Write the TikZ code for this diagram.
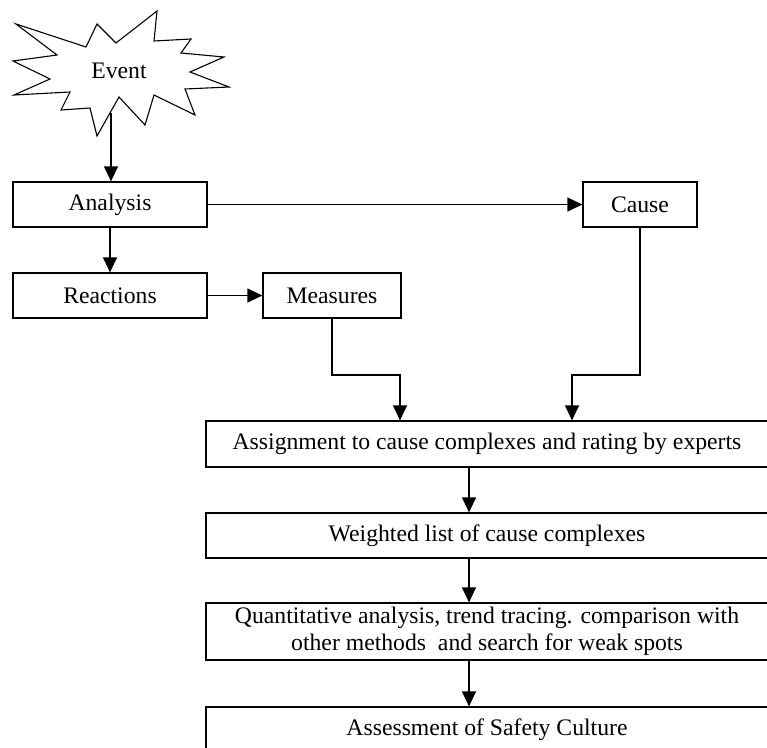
\documentclass[tikz,border=0pt]{standalone}
\usepackage{fontspec}
\setmainfont{Liberation Serif}
\usetikzlibrary{arrows.meta}
\begin{document}
\begin{tikzpicture}[x=1pt,y=-1pt,
  box/.style={draw, line width=1.25pt, rectangle, inner sep=0pt, align=center,
    font=\fontsize{23.7}{27}\selectfont},
  txt/.style={inner sep=0pt, font=\fontsize{23.7}{27}\selectfont},
  arr/.style={line width=1.25pt, -{Triangle[length=15pt,width=14pt]}},
  conn/.style={line width=1.25pt}]
\clip (0,0) rectangle (767,747);
% star
\draw[line width=1.1pt, line join=miter]
  (16,24) -- (86,47) -- (97,24) -- (116,43) -- (157,11) -- (154,41) -- (191,39)
  -- (181,53) -- (224,57) -- (190,72) -- (229,87) -- (185,89) -- (195,115)
  -- (154,95) -- (145,125) -- (119,97) -- (97,136) -- (90,108) -- (61,110)
  -- (70,92) -- (14,95) -- (50,79) -- (13,61) -- (57,55) -- cycle;
\node[txt] (event) at (119,71) {Event};
\coordinate (eventb) at (111,113);
% boxes
\node[box, minimum width=194pt, minimum height=45pt] (analysis) at (110,204.5) {Analysis};
\node[box, minimum width=114pt, minimum height=45pt] (cause) at (640,204.5) {Cause};
\node[box, minimum width=194pt, minimum height=45pt] (reactions) at (110,295.5) {Reactions};
\node[box, minimum width=138pt, minimum height=45pt] (measures) at (332,295.5) {Measures};
\node[box, minimum width=562pt, minimum height=46pt] (assign) at (487,444) {Assignment to cause complexes and rating by experts};
\node[box, minimum width=562pt, minimum height=45pt] (weighted) at (487,535.5) {Weighted list of cause complexes};
\node[box, minimum width=562pt, minimum height=57pt] (quant) at (487,631.5) {Quantitative analysis, trend tracing. comparison with\\other methods\ \ and search for weak spots};
\node[box, minimum width=562pt, minimum height=46pt] (assess) at (487,730) {Assessment of Safety Culture};
% helper coordinates
\coordinate (ax) at (469,0);
\coordinate (mx) at (400,0);
\coordinate (cx) at (572,0);
\coordinate (ylev) at (0,375);
% connectors
\draw[arr] (eventb) -- (eventb |- analysis.north);
\draw[arr] (analysis.east) -- (cause.west);
\draw[arr] (analysis.south) -- (reactions.north);
\draw[arr] (reactions.east) -- (measures.west);
\draw[arr] (measures.south) -- (measures.south |- ylev) -- (mx |- ylev) -- (mx |- assign.north);
\draw[arr] (cause.south) -- (cause.south |- ylev) -- (cx |- ylev) -- (cx |- assign.north);
\draw[arr] (assign.south -| ax) -- (weighted.north -| ax);
\draw[arr] (weighted.south -| ax) -- (quant.north -| ax);
\draw[arr] (quant.south -| ax) -- (assess.north -| ax);
\end{tikzpicture}
\end{document}
